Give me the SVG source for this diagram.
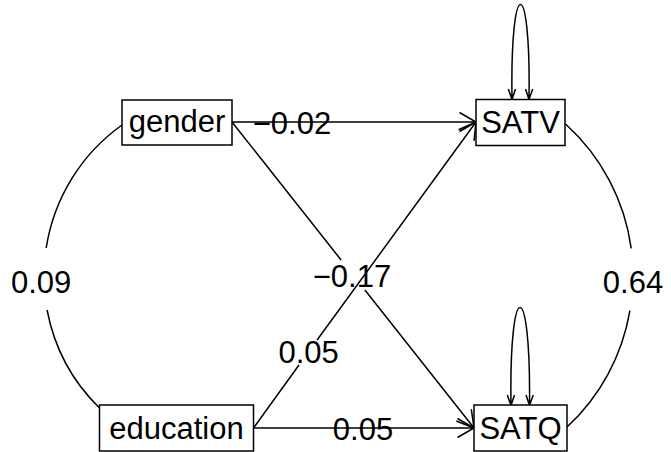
<svg xmlns="http://www.w3.org/2000/svg" width="671" height="452" viewBox="0 0 671 452">
<style>
.box{fill:#fff;stroke:#000;stroke-width:1.5}
.ln{fill:none;stroke:#000;stroke-width:1.5}
.t{font-family:"Liberation Sans",Arial,sans-serif;font-size:31px;fill:#000;text-anchor:middle}
</style>
<rect width="671" height="452" fill="#fff"/>
<g id="connectors">
  <!-- gender -> SATV -->
  <path class="ln" d="M232,122 L476,122 M459.5,112.5 L476,122 L459.5,131.5"/>
  <!-- education -> SATQ -->
  <path class="ln" d="M253.5,428 L474,428 M457.5,418.5 L474,428 L457.5,437.5"/>
  <!-- gender -> SATQ (gap for label) -->
  <path class="ln" d="M232,122 L341.1,260 M364.9,290 L474,428 M456.3,421 L474,428 L471.3,409.2"/>
  <!-- education -> SATV (gap for label) -->
  <path class="ln" d="M253.5,428 L299,365 M317.1,340 L476,122 M474,140.9 L476,122 L458.6,129.7"/>
  <!-- self loops -->
  <path class="ln" d="M512,99 C510,-27 531,-27 529,99 M508.3,89 L512,99.5 L515.5,89 M525.5,89 L529,99.5 L532.7,89"/>
  <path class="ln" d="M511,405 C509,275 531,275 529.5,405 M507.3,395 L511,405.5 L514.5,395 M526,395 L529.5,405.5 L533.2,395"/>
  <!-- covariance gender - education -->
  <path class="ln" d="M122,125 A185.5,185.5 0 0 0 46.2,248 M47.1,310 A185.5,185.5 0 0 0 99.5,408"/>
  <!-- covariance SATV - SATQ -->
  <path class="ln" d="M565.5,124 A204.8,204.8 0 0 1 631.2,248.3 M629.9,310.7 A204.8,204.8 0 0 1 567,427"/>
  <text class="t" x="292" y="134">−0.02</text>
  <text class="t" x="363" y="440">0.05</text>
  <text class="t" x="352" y="287">−0.17</text>
  <text class="t" x="308.7" y="363">0.05</text>
  <text class="t" x="41.2" y="293">0.09</text>
  <text class="t" x="633" y="293">0.64</text>
</g>
<g id="gender"><rect class="box" x="122" y="100" width="110" height="45"/><text class="t" x="177" y="132">gender</text></g>
<g id="education"><rect class="box" x="99.5" y="405" width="154" height="46"/><text class="t" x="176.5" y="439">education</text></g>
<g id="SATV"><rect class="box" x="476" y="99.5" width="89" height="46"/><text class="t" x="520.5" y="133">SATV</text></g>
<g id="SATQ"><rect class="box" x="474" y="405" width="93" height="46"/><text class="t" x="520.5" y="439">SATQ</text></g>
</svg>
